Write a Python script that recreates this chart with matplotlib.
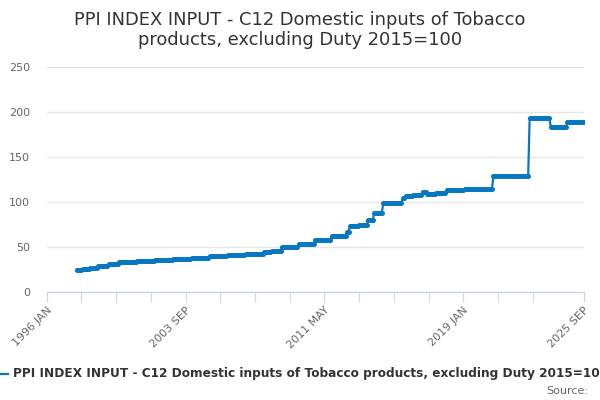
import numpy as np
import matplotlib.pyplot as plt
from matplotlib.lines import Line2D

# Ряд по месяцам с 1996 JAN по 2025 SEP, значения меняются ступеньками
first_year = 1996
n_months = 357

step_dates = ['1997-09', '1998-01', '1998-06', '1998-11', '1999-06', '2000-01',
              '2000-08', '2001-01', '2002-01', '2003-01', '2004-01', '2005-01',
              '2006-01', '2007-01', '2008-01', '2008-06', '2009-01', '2009-12',
              '2010-11', '2011-10', '2012-08', '2012-10', '2013-04', '2013-10',
              '2014-02', '2014-08', '2015-09', '2015-11', '2016-04', '2016-10',
              '2017-01', '2017-07', '2018-02', '2019-02', '2020-09', '2022-09',
              '2023-11', '2024-10']
step_values = [25, 26, 27, 29, 31, 33,
               33.8, 34.5, 35.5, 37, 38, 39.5,
               41, 42.5, 44, 45.5, 50, 53,
               57.8, 62.6, 67, 73.5, 75, 80,
               87.4, 98.5, 104.8, 107, 108, 111.5,
               108.9, 110.4, 113.3, 114.4, 128.9, 193.5,
               183.6, 189]

tick_months = [0, 23, 46, 69, 92, 115, 138, 161, 184, 207, 230, 253, 276, 299, 322, 356]
tick_labels = ['1996 JAN', '', '', '', '2003 SEP', '', '', '', '2011 MAY', '', '', '',
               '2019 JAN', '', '', '2025 SEP']

title = 'PPI INDEX INPUT - C12 Domestic inputs of Tobacco\nproducts, excluding Duty 2015=100'
series_name = 'PPI INDEX INPUT - C12 Domestic inputs of Tobacco products, excluding Duty 2015=100'


def month_index(s):
    y, m = map(int, s.split('-'))
    return (y - first_year) * 12 + m - 1


values = np.full(n_months, np.nan)
for i, d in enumerate(step_dates):
    start = month_index(d)
    end = month_index(step_dates[i + 1]) if i + 1 < len(step_dates) else n_months
    values[start:end] = step_values[i]

W, H = 600, 400
fig = plt.figure(figsize=(6, 4), dpi=100)
ax = fig.add_axes([46.7 / W, (H - 292) / H, (584 - 46.7) / W, (292 - 67) / H])

blue = '#0677c0'
ax.plot(np.arange(n_months), values, color=blue, linewidth=1.6,
        marker='o', markersize=3.6, markeredgewidth=0)

ax.set_xlim(0, 356)
ax.set_ylim(0, 250)
ax.set_yticks([0, 50, 100, 150, 200, 250])
ax.grid(axis='y', color='#e6e6e6', linewidth=1)
ax.set_axisbelow(True)

ax.set_xticks(tick_months)
ax.set_xticklabels(tick_labels, rotation=45, ha='right', rotation_mode='anchor')

for s in ['top', 'right', 'left']:
    ax.spines[s].set_visible(False)
ax.spines['bottom'].set_color('#ccd6eb')
ax.spines['bottom'].set_linewidth(1)

ax.tick_params(axis='x', length=7.2, width=0.8, color='#ccd6eb', labelcolor='#666666',
               labelsize=8, pad=2)
ax.tick_params(axis='y', length=0, labelcolor='#666666', labelsize=8, pad=12)

fig.text(0.5, 1 - 30 / H, title, ha='center', va='center', fontsize=12.9,
         color='#333333', linespacing=1.2)

# легенда шире картинки и обрезана по краям, как в исходнике
fig.add_artist(Line2D([-8 / W, 8 / W], [1 - 374 / H] * 2, color=blue, linewidth=1.6,
                      transform=fig.transFigure))
fig.text(12.6 / W, 1 - 374 / H, series_name, ha='left', va='center', fontsize=8.75,
         fontweight='bold', color='#333333')
fig.text(588 / W, 1 - 391 / H, 'Source:', ha='right', va='center', fontsize=8,
         color='#666666')

fig.savefig('out.png', dpi=100)
